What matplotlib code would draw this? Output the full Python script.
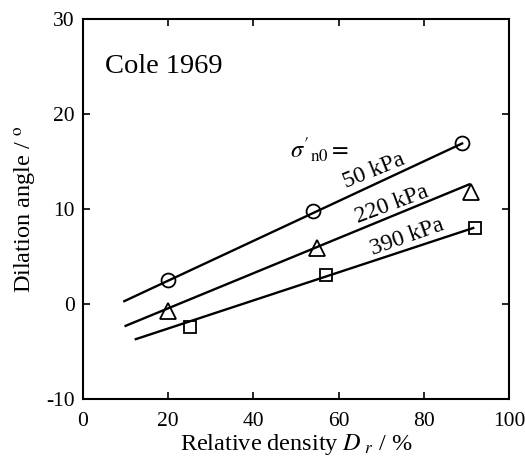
import matplotlib
matplotlib.use("Agg")
import matplotlib.pyplot as plt

plt.rcParams["font.family"] = ["Liberation Serif", "DejaVu Serif"]
plt.rcParams["mathtext.fontset"] = "stix"
plt.rcParams["axes.unicode_minus"] = False

# Measured dilation angles (deg) vs relative density (%)
dr_50 = [20, 54, 89]
psi_50 = [2.5, 9.8, 16.9]
dr_220 = [20, 55, 91]
psi_220 = [-0.7, 5.9, 11.8]
dr_390 = [25, 57, 92]
psi_390 = [-2.4, 3.05, 8.0]

# Trend-line end points for each confining stress
fit_x_50 = [9.7, 89]
fit_y_50 = [0.3, 16.9]
fit_x_220 = [10, 90.7]
fit_y_220 = [-2.3, 12.6]
fit_x_390 = [12.4, 91.6]
fit_y_390 = [-3.7, 8.0]

stress_labels = ["50 kPa", "220 kPa", "390 kPa"]
x_ticks = [0, 20, 40, 60, 80, 100]
y_ticks = [-10, 0, 10, 20, 30]

fig = plt.figure(figsize=(5.25, 4.68), dpi=100)
ax = fig.add_axes([83 / 525, 1 - 399 / 468, 426 / 525, 380 / 468])

lw = 1.7
mk = dict(markerfacecolor="none", markeredgecolor="black", markeredgewidth=1.3,
          linestyle="none", zorder=3)

ax.plot(fit_x_50, fit_y_50, color="black", lw=lw)
ax.plot(fit_x_220, fit_y_220, color="black", lw=lw)
ax.plot(fit_x_390, fit_y_390, color="black", lw=lw)

ax.plot(dr_50, psi_50, marker="o", markersize=10, **mk)
ax.plot(dr_220, psi_220, marker="^", markersize=11, **mk)
ax.plot(dr_390, psi_390, marker="s", markersize=8.5, **mk)

ax.set_xlim(0, 100)
ax.set_ylim(-10, 30)
ax.set_xticks(x_ticks)
ax.set_yticks(y_ticks)
ax.tick_params(direction="in", length=5, width=1.2, labelsize=15.5,
               top=True, right=True)
ax.tick_params(axis="x", pad=9)
ax.tick_params(axis="y", pad=6)
for s in ax.spines.values():
    s.set_linewidth(1.5)

ax.set_xlabel(r"Relative density $D_{\,\,r}$ / %", fontsize=17.5, labelpad=1)
ax.set_ylabel(r"Dilation angle / $^{\mathrm{o}}$", fontsize=17.5, labelpad=5)

ax.text(5.2, 25.0, "Cole 1969", fontsize=20.5, ha="left", va="center")
ax.text(55.5, 16.3, r"$\sigma'_{\mathrm{n0}}=$", fontsize=17.5, ha="center", va="center")
ax.text(68.3, 14.0, stress_labels[0], fontsize=17, rotation=22, ha="center", va="center")
ax.text(72.5, 10.5, stress_labels[1], fontsize=17, rotation=20.5, ha="center", va="center")
ax.text(76.0, 7.0, stress_labels[2], fontsize=17, rotation=19.5, ha="center", va="center")

fig.savefig("out.png", dpi=100)
